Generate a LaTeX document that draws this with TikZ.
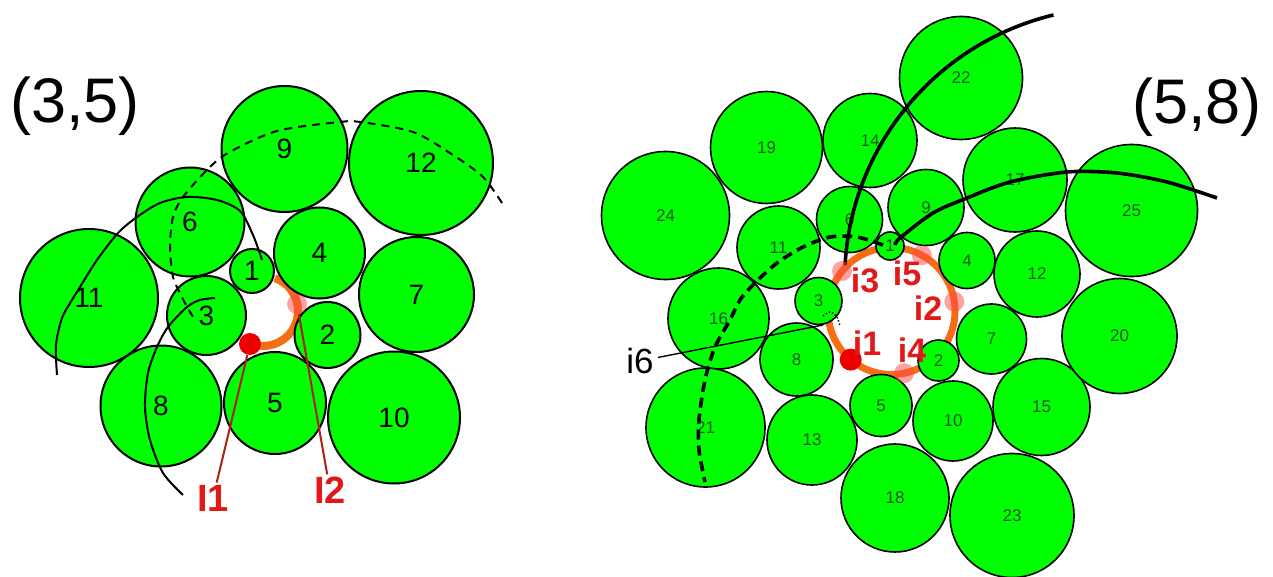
\documentclass[tikz,border=0pt]{standalone}
\usepackage{fontspec}
\setmainfont{Liberation Sans}
\definecolor{cG}{RGB}{0,255,0}
\definecolor{cO}{RGB}{245,110,20}
\definecolor{cR}{RGB}{235,0,0}
\definecolor{cT}{RGB}{225,25,25}
\definecolor{cL}{RGB}{175,30,20}
\definecolor{cP}{RGB}{255,70,70}
\definecolor{cN}{RGB}{25,85,25}
\tikzset{
  ball/.style={circle,draw=black,line width=1pt,fill=cG,inner sep=0pt,
              minimum size=#1pt,font=\fontsize{14}{14}\selectfont},
  bead/.style={circle,draw=black,line width=0.8pt,fill=cG,inner sep=0pt,
              minimum size=#1pt,text=cN,font=\fontsize{8.5}{8.5}\selectfont},
  ring/.style={cO,line width=#1},
  hit/.style={circle,fill=cR,inner sep=0pt,minimum size=11pt},
  ghost/.style={circle,fill=cP,fill opacity=0.5,inner sep=0pt,minimum size=10pt},
  tag/.style={text=cT,inner sep=1pt,font=\bfseries\fontsize{#1}{#1}\selectfont},
  pointer/.style={cL,line width=1pt},
  guide/.style={black,line width=#1},
  pairlabel/.style={font=\fontsize{31.5}{31.5}\selectfont},
}

\begin{document}
\begin{tikzpicture}[x=0.5pt,y=-0.5pt]
  \useasboundingbox (0,0) rectangle (1273,577);
  % (3,5): the hole and its rim
  \coordinate (holeL) at (263,311);
  \draw[ring=4pt] (holeL) ++(-70:35) arc[start angle=-70,end angle=112,radius=35];
  \node[ball=22]   (L1)  at (252,271)   {1};
  \node[ball=33]   (L2)  at (327.5,335) {2};
  \node[ball=39.5] (L3)  at (206.5,315.5) {3};
  \node[ball=45.5] (L4)  at (319.5,253) {4};
  \node[ball=51]   (L5)  at (275,403)   {5};
  \node[ball=54.5] (L6)  at (190,222)   {6};
  \node[ball=57.5] (L7)  at (416.5,294.5) {7};
  \node[ball=60.5] (L8)  at (161,406)   {8};
  \node[ball=63]   (L9)  at (284.5,149) {9};
  \node[ball=66]   (L10) at (394,417.5) {10};
  \node[ball=69]   (L11) at (89,298)    {11};
  \node[ball=72]   (L12) at (421,163)   {12};
  \draw[guide=1pt,dashed,dash pattern=on 4pt off 3pt] plot[smooth] coordinates {(502,203) (483,177) (453,155) (413,132) (360,122) (340,122) (277,131) (228,153) (207,170) (183,197) (173,217) (170,247) (173,277) (180,293) (187,307) (195,320)};
  \draw[guide=1pt] plot[smooth] coordinates {(57,375) (56,345) (62,318) (72,300) (80,287) (97,260) (118,233) (137,217) (160,203) (187,197) (217,200) (240,211) (253,235) (262,260)};
  \draw[guide=1pt] plot[smooth] coordinates {(183,495) (163,473) (150,440) (145,407) (148,373) (157,347) (168,327) (187,307) (200,300) (215,298)};
  \node[ghost] (gL2) at (297,304) {};
  \node[hit]   (hL1) at (250,344) {};
  \node[tag=19] (I1) at (213,498) {I1};
  \node[tag=19] (I2) at (330,490) {I2};
  \draw[pointer] (hL1) -- (I1);
  \draw[pointer] (gL2) -- (I2);
  \node[pairlabel] (pairL) at (75,106) {(3,5)};

  % (5,8): the hole and its rim
  \coordinate (holeR) at (891.5,311);
  \draw[ring=3.5pt] (holeR) circle[radius=63.5];
  \node[bead=14]   (R1)  at (890,246)   {1};
  \node[bead=20.5] (R2)  at (938.5,360.5) {2};
  \node[bead=23.5] (R3)  at (818.5,301) {3};
  \node[bead=28]   (R4)  at (967,260.5) {4};
  \node[bead=31]   (R5)  at (881,405.5) {5};
  \node[bead=33]   (R6)  at (849.5,219.5) {6};
  \node[bead=35]   (R7)  at (991.5,339) {7};
  \node[bead=36.5] (R8)  at (796.5,359.5) {8};
  \node[bead=38]   (R9)  at (926,207.5) {9};
  \node[bead=40]   (R10) at (953,421)   {10};
  \node[bead=41.5] (R11) at (778.5,247.5) {11};
  \node[bead=43]   (R12) at (1037,274)  {12};
  \node[bead=45]   (R13) at (812,440)   {13};
  \node[bead=47]   (R14) at (870,140.5) {14};
  \node[bead=48.5] (R15) at (1041.5,407) {15};
  \node[bead=50.5] (R16) at (718.5,318.5) {16};
  \node[bead=52]   (R17) at (1015,180)  {17};
  \node[bead=54]   (R18) at (895,498)   {18};
  \node[bead=56]   (R19) at (766.5,147.5) {19};
  \node[bead=57.5] (R20) at (1119.5,336) {20};
  \node[bead=59.5] (R21) at (705.5,427.5) {21};
  \node[bead=61.5] (R22) at (961,78)    {22};
  \node[bead=62]   (R23) at (1012,515.5) {23};
  \node[bead=64]   (R24) at (665.5,215.5) {24};
  \node[bead=66]   (R25) at (1131.5,210.5) {25};
  \coordinate (arcA) at (1117.6,280.3);
  \draw[guide=1.8pt] (arcA) ++(-176.8:273) arc[start angle=-176.8,end angle=-103.6,radius=273];
  \draw[guide=1.8pt] plot[smooth] coordinates {(895,245) (900,238) (933,213) (967,198) (1010,182) (1067,172) (1117,173) (1167,182) (1217,198)};
  \draw[guide=1.8pt,dashed,dash pattern=on 5pt off 3pt] plot[smooth] coordinates {(883,245) (857,237) (830,237) (803,247) (777,263) (755,283) (740,300) (730,320) (715,347) (705,380) (699,420) (699,450) (705,482)};
  \draw[guide=0.7pt,densely dotted] plot[smooth] coordinates {(823,316) (830,312) (837,317) (840,326)};
  \node[ghost] (gR3) at (842,271)     {};
  \node[ghost] (gR5) at (921.8,255.2) {};
  \node[ghost] (gR2) at (954.3,301.6) {};
  \node[ghost] (gR4) at (904,373.2)   {};
  \node[hit]   (hR1) at (850.7,359.6) {};
  \node[tag=17] (i3) at (865,280) {i3};
  \node[tag=17] (i5) at (907,273) {i5};
  \node[tag=17] (i2) at (928,308) {i2};
  \node[tag=17] (i1) at (867,343) {i1};
  \node[tag=17] (i4) at (912,350) {i4};
  \node[font=\fontsize{17.5}{17.5}\selectfont,inner sep=2pt] (i6) at (640,361) {i6};
  \coordinate (i6end) at (823,325);
  \draw[guide=0.7pt] (i6) -- (i6end);
  \node[pairlabel] (pairR) at (1197,107) {(5,8)};
\end{tikzpicture}
\end{document}
